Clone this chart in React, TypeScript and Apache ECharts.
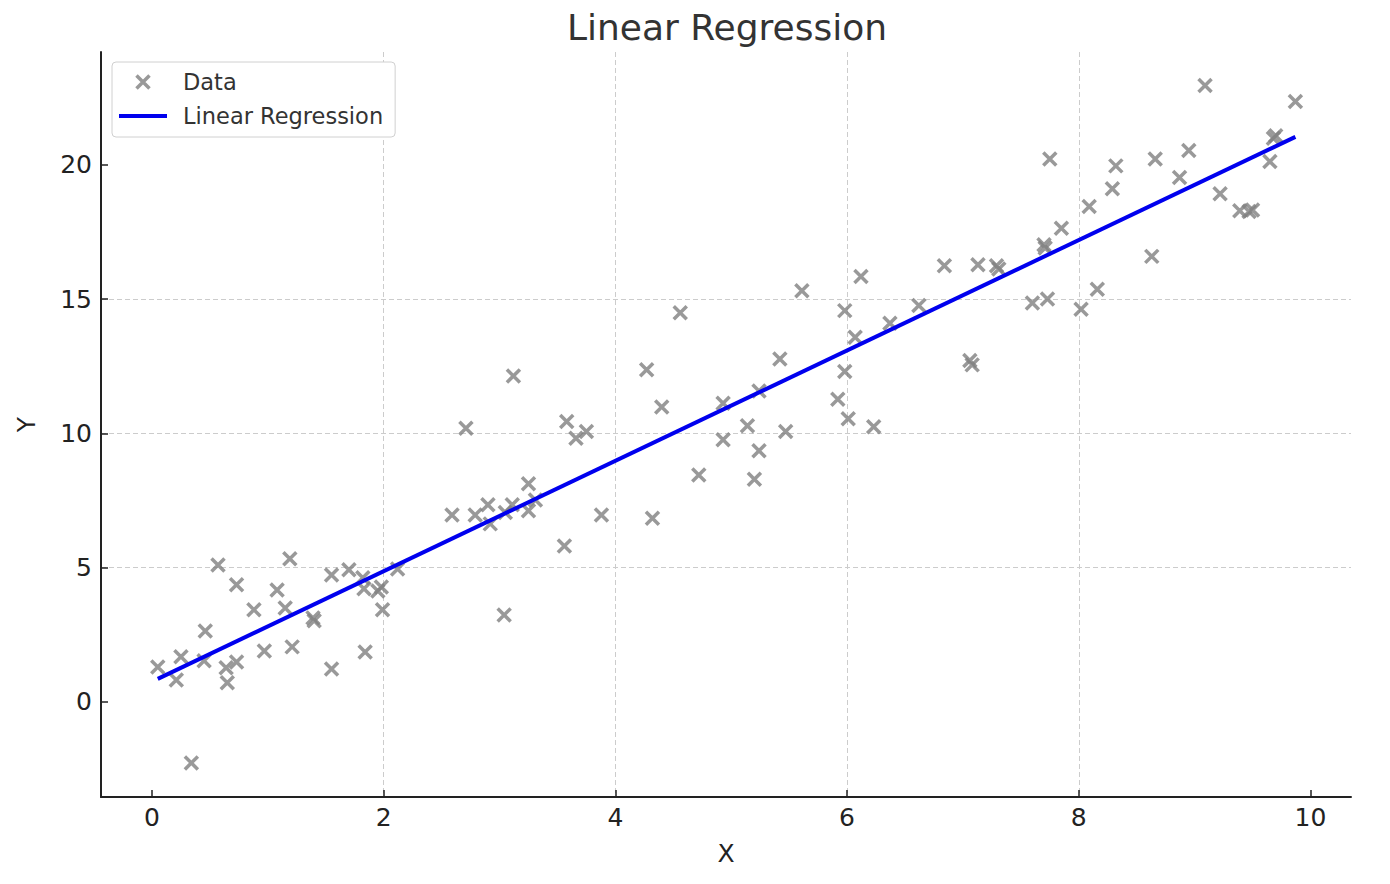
import React, { useEffect, useRef } from "react";
import * as echarts from "echarts";

const dataX = [
  0.05, 0.21, 0.25, 0.34, 0.46, 0.45, 0.57, 0.64, 0.65, 0.73, 0.73, 0.88, 0.97, 1.08, 1.15, 1.19, 1.21, 1.39, 1.4, 1.55,
  1.55, 1.7, 1.82, 1.83, 1.84, 1.95, 1.98, 1.99, 2.12,
  2.59, 2.71, 2.79, 2.9, 2.92, 3.04, 3.05, 3.11, 3.12, 3.25, 3.25, 3.31, 3.56, 3.58, 3.66, 3.75, 3.88,
  4.27, 4.32, 4.4, 4.56, 4.72, 4.93, 4.93, 5.14, 5.2, 5.24, 5.24, 5.42, 5.47, 5.61,
  5.92, 5.98, 5.98, 6.01, 6.07, 6.12, 6.23, 6.37, 6.62, 6.84,
  7.06, 7.08, 7.13, 7.29, 7.31,
  7.6, 7.7, 7.71, 7.73, 7.75, 7.85, 8.02, 8.09, 8.16, 8.29, 8.32, 8.63, 8.66, 8.87, 8.95, 9.09, 9.22, 9.39, 9.47, 9.5,
  9.65, 9.68, 9.7, 9.87,
];
const dataY = [
  1.3, 0.82, 1.68, -2.27, 2.64, 1.53, 5.1, 1.27, 0.71, 4.36, 1.49, 3.43, 1.9, 4.17, 3.5, 5.33, 2.05, 3.13, 3.02, 1.23,
  4.73, 4.92, 4.62, 4.21, 1.86, 4.13, 4.28, 3.43, 4.95,
  6.96, 10.19, 6.96, 7.34, 6.63, 3.24, 7.05, 7.34, 12.14, 8.12, 7.12, 7.52, 5.81, 10.44, 9.82, 10.07, 6.96,
  12.37, 6.84, 10.98, 14.49, 8.45, 11.12, 9.76, 10.28, 8.29, 11.58, 9.35, 12.77, 10.07, 15.31,
  11.27, 14.57, 12.3, 10.54, 13.58, 15.84, 10.25, 14.1, 14.76, 16.24,
  12.71, 12.55, 16.28, 16.24, 16.12,
  14.85, 17.02, 16.9, 15.0, 20.22, 17.64, 14.62, 18.45, 15.37, 19.11, 19.96, 16.59, 20.22, 19.53, 20.53, 22.95, 18.92,
  18.29, 18.26, 18.32, 20.12, 20.99, 21.08, 22.36,
];
const lineX = [0.05, 9.87];
const lineY = [0.86, 21.04];
const xTicks = [0, 2, 4, 6, 8, 10];
const yTicks = [0, 5, 10, 15, 20];

const FONT = "DejaVu Sans";

export default function App() {
  const ref = useRef<HTMLDivElement>(null);
  useEffect(() => {
    document.body.style.margin = "0";
    const chart = echarts.init(ref.current!, null, { renderer: "svg" });
    const scatterData = dataX.map((x, i) => [x, dataY[i]]);
    const lineData = lineX.map((x, i) => [x, lineY[i]]);
    const axisCommon = {
      axisLine: { show: true, onZero: false, lineStyle: { color: "#222", width: 2 } },
      axisTick: { show: true, inside: true, length: 7, lineStyle: { color: "#222", width: 1.5 } },
      splitLine: {
        show: true,
        showMinLine: false,
        showMaxLine: false,
        lineStyle: { color: "#cccccc", type: [5, 3], width: 1 },
      },
      nameTextStyle: { fontFamily: FONT, fontSize: 25, color: "#222" },
    };
    chart.setOption({
      animation: false,
      title: {
        text: "Linear Regression",
        left: 722,
        textAlign: "center",
        top: 4,
        textStyle: { fontFamily: FONT, fontSize: 36, fontWeight: "normal", color: "#333" },
      },
      legend: {
        orient: "vertical",
        left: 112,
        top: 62,
        padding: [7, 12, 8, 7],
        itemGap: 8,
        itemWidth: 48,
        itemHeight: 13,
        borderColor: "#d0d0d0",
        borderWidth: 1,
        borderRadius: 4,
        backgroundColor: "#fff",
        textStyle: { fontFamily: FONT, fontSize: 22.5, lineHeight: 26, color: "#333", padding: [0, 0, 0, 11] },
        data: [
          { name: "Data", itemStyle: { color: "rgba(0,0,0,0)", borderColor: "#808080", borderWidth: 3.5 } },
          {
            name: "Linear Regression",
            icon: "path://M0,0L48,0L48,4L0,4Z",
            itemStyle: { color: "#0000ee", borderWidth: 0 },
          },
        ],
      },
      grid: { left: 101, right: 39, top: 52, bottom: 87, containLabel: false },
      xAxis: {
        type: "value",
        min: -0.44,
        max: 10.35,
        name: "X",
        nameLocation: "middle",
        nameGap: 44,
        ...axisCommon,
        axisTick: { ...axisCommon.axisTick, customValues: xTicks },
        axisLabel: {
          customValues: xTicks,
          fontFamily: FONT,
          fontSize: 25,
          color: "#222",
          margin: 8,
        },
      },
      yAxis: {
        type: "value",
        min: -3.54,
        max: 24.2,
        name: "Y",
        nameLocation: "middle",
        nameGap: 62,
        ...axisCommon,
        axisTick: { ...axisCommon.axisTick, customValues: yTicks },
        axisLabel: {
          customValues: yTicks,
          fontFamily: FONT,
          fontSize: 25,
          color: "#222",
          margin: 9,
        },
      },
      series: [
        {
          name: "Data",
          type: "scatter",
          data: scatterData,
          symbol: "path://M0,0L10,10M10,0L0,10",
          symbolSize: 13,
          itemStyle: { color: "rgba(0,0,0,0)", borderColor: "#808080", borderWidth: 3.5 },
          z: 2,
        },
        {
          name: "Linear Regression",
          type: "line",
          data: lineData,
          symbol: "none",
          showSymbol: false,
          lineStyle: { color: "#0000ee", width: 4 },
          itemStyle: { color: "#0000ee" },
          z: 3,
        },
      ],
    });
    return () => chart.dispose();
  }, []);
  return <div ref={ref} style={{ width: 1390, height: 884 }} />;
}
